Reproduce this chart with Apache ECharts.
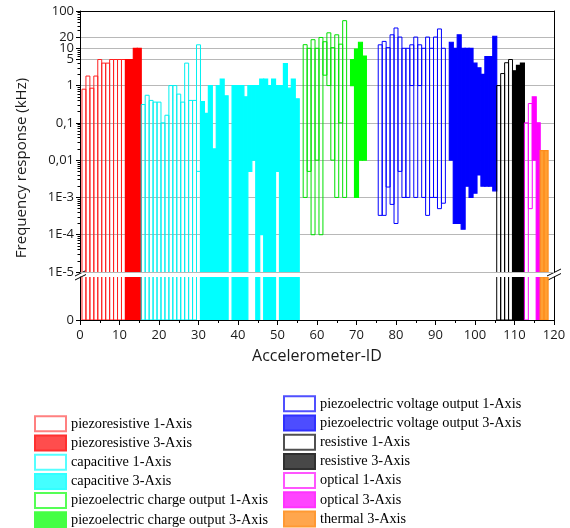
<!DOCTYPE html>
<html><head><meta charset="utf-8">
<script src="https://cdn.jsdelivr.net/npm/echarts@6/dist/echarts.min.js"></script>
<style>html,body{margin:0;padding:0;background:#fff}#c{width:570px;height:528px}</style>
</head><body><div id="c"></div><script>
// ---------- data (frequency range in kHz per accelerometer ID; low 0 = DC) ----------
const prHollowIds  = [1,2,3,4,5,6,7,8,9,10,11];
const prHollowLow  = [0,0,0,0,0,0,0,0,0,0,0];
const prHollowHigh = [0.8,1.8,0.85,1.8,5,4,4,5,5,5,5];

const prFilledIds  = [12,13,14,15];
const prFilledLow  = [0,0,0,0];
const prFilledHigh = [5,5,10,10];

const caHollowIds  = [16,17,18,19,20,21,22,23,24,25,26,27,28,29,30];
const caHollowLow  = [0,0,0,0,0,0,0,0,0,0,0,0,0,0,0.005];
const caHollowHigh = [0.31,0.55,0.4,0.36,0.36,0.1,0.16,1,1,0.59,0.36,4,0.4,0.4,12.4];

const caFilledIds  = [31,32,33,34,35,36,37,39,40,41,42,43,44,45,46,47,48,49,50,51,52,53,54,55];
const caFilledLow  = [0,0,0,0,0,0,0,0,0,0,0,0.005,0.01,0,0.0001,0,0,0,0.005,0,0,0,0,0];
const caFilledHigh = [0.37,0.18,1,0.02,1,1.5,0.53,1,1,1,0.5,1,1,1,1.5,1.5,1,1.5,1,1,3.9,0.85,1.5,0.44];

const pcHollowIds  = [57,58,59,60,61,62,63,64,65,66,67];
const pcHollowLow  = [0.001,0.005,0.0001,0.01,0.0001,1.9,1,0.01,0.001,0.1,0.001];
const pcHollowHigh = [12.5,10,17,10,19.5,15,26,10.4,23,12.9,55];

const pcFilledIds  = [69,70,71,72];
const pcFilledLow  = [1,0.001,0.01,0.01];
const pcFilledHigh = [5,9.5,14.5,6.2];

const pvHollowIds  = [76,77,78,79,80,81,82,83,84,85,86,87,88,89,90,91,92];
const pvHollowLow  = [0.00033,0.00033,0.0019,0.00065,0.0002,0.005,0.001,0.001,1,0.001,1,0.001,0.00033,0.001,0.001,0.0005,0.0007];
const pvHollowHigh = [12.4,15.3,10.4,23,35,20,10,10,12.4,20,12.4,10,20,10,20,33,10];

const pvFilledIds  = [94,95,96,97,98,99,100,101,102,103,104,105];
const pvFilledLow  = [0.01,0.0002,0.0002,0.00014,0.002,0.001,0.0013,0.004,0.002,0.002,0.002,0.0015];
const pvFilledHigh = [14.5,10,23,10,10,10,4,3,2,6,6,21];

const reHollowIds  = [106,107,108,109];
const reHollowLow  = [0,0,0,0];
const reHollowHigh = [1,2.1,4.1,5];

const reFilledIds  = [110,111,112];
const reFilledLow  = [0,0,0];
const reFilledHigh = [2.5,3.5,4];

const opHollowIds  = [113,114];
const opHollowLow  = [0,0.0005];
const opHollowHigh = [0.1,0.33];

const opFilledIds  = [115,116];
const opFilledLow  = [0.01,0];
const opFilledHigh = [0.5,0.1];

const thFilledIds  = [117,118];
const thFilledLow  = [0,0];
const thFilledHigh = [0.018,0.018];

// axis ticks
const yTickValues = [0.00001,0.0001,0.001,0.01,0.1,1,5,10,20,100];
const yTickLabels = ['1E-5','1E-4','1E-3','0,01','0,1','1','5','10','20','100'];
const yMinorValues = [];
for (let d = -5; d <= 1; d++) for (let m = 2; m <= 9; m++) yMinorValues.push(+(m * Math.pow(10, d)).toPrecision(3));
const Y_MIN = 1e-5, Y_MAX = 100;

// ---------- categories ----------
const cats = [
  {name:'piezoresistive 1-Axis', ids:prHollowIds, low:prHollowLow, high:prHollowHigh, hollow:true, color:'#ff2020', lg:{fill:'#ffffff', border:'#ff8080'}},
  {name:'piezoresistive 3-Axis', ids:prFilledIds, low:prFilledLow, high:prFilledHigh, hollow:false, color:'#ff0000', lg:{fill:'#ff4d4d', border:'#ff3030'}},
  {name:'capacitive 1-Axis', ids:caHollowIds, low:caHollowLow, high:caHollowHigh, hollow:true, color:'#00f0f0', lg:{fill:'#ffffff', border:'#55ffff'}},
  {name:'capacitive 3-Axis', ids:caFilledIds, low:caFilledLow, high:caFilledHigh, hollow:false, color:'#00ffff', lg:{fill:'#44ffff', border:'#33ffff'}},
  {name:'piezoelectric charge output 1-Axis', ids:pcHollowIds, low:pcHollowLow, high:pcHollowHigh, hollow:true, color:'#00e000', lg:{fill:'#ffffff', border:'#55ff55'}},
  {name:'piezoelectric charge output 3-Axis', ids:pcFilledIds, low:pcFilledLow, high:pcFilledHigh, hollow:false, color:'#00ff00', lg:{fill:'#44ff44', border:'#44ff44'}},
  {name:'piezoelectric voltage output 1-Axis', ids:pvHollowIds, low:pvHollowLow, high:pvHollowHigh, hollow:true, color:'#0000ff', lg:{fill:'#ffffff', border:'#5050ff'}},
  {name:'piezoelectric voltage output 3-Axis', ids:pvFilledIds, low:pvFilledLow, high:pvFilledHigh, hollow:false, color:'#0000ff', lg:{fill:'#4d4dff', border:'#3030ff'}},
  {name:'resistive 1-Axis', ids:reHollowIds, low:reHollowLow, high:reHollowHigh, hollow:true, color:'#000000', lg:{fill:'#ffffff', border:'#505050'}},
  {name:'resistive 3-Axis', ids:reFilledIds, low:reFilledLow, high:reFilledHigh, hollow:false, color:'#000000', lg:{fill:'#484848', border:'#303030'}},
  {name:'optical 1-Axis', ids:opHollowIds, low:opHollowLow, high:opHollowHigh, hollow:true, color:'#ff00ff', lg:{fill:'#ffffff', border:'#ff55ff'}},
  {name:'optical 3-Axis', ids:opFilledIds, low:opFilledLow, high:opFilledHigh, hollow:false, color:'#ff00ff', lg:{fill:'#ff44ff', border:'#ff33ff'}},
  {name:'thermal 3-Axis', ids:thFilledIds, low:thFilledLow, high:thFilledHigh, hollow:false, color:'#ffa033', stroke:'#ff8c1a', lg:{fill:'#ffa64d', border:'#ff9933'}}
];

function topRender(cat) {
  return function (params, api) {
    const id = api.value(0), lo = api.value(1), hi = api.value(2);
    const open = !(lo > 0);
    const p1 = api.coord([id - 0.5, hi]);
    const p2 = api.coord([id + 0.5, open ? Y_MIN : lo]);
    if (cat.hollow) {
      if (open) return {type:'polyline', shape:{points:[[p1[0],p2[1]],[p1[0],p1[1]],[p2[0],p1[1]],[p2[0],p2[1]]]}, style:{fill:null, stroke:cat.color, lineWidth:1}};
      return {type:'rect', shape:{x:p1[0], y:p1[1], width:p2[0]-p1[0], height:p2[1]-p1[1]}, style:{fill:null, stroke:cat.color, lineWidth:1}};
    }
    return {type:'rect', shape:{x:p1[0], y:p1[1], width:p2[0]-p1[0], height:p2[1]-p1[1]}, style:{fill:cat.color, stroke:cat.stroke || cat.color, lineWidth:1.2}};
  };
}
function bottomRender(cat) {
  return function (params, api) {
    const id = api.value(0);
    const p1 = api.coord([id - 0.5, 1]);
    const p2 = api.coord([id + 0.5, api.value(1)]);
    if (cat.hollow) return {type:'polyline', shape:{points:[[p1[0],p1[1]],[p1[0],p2[1]],[p2[0],p2[1]],[p2[0],p1[1]]]}, style:{fill:null, stroke:cat.color, lineWidth:1}};
    return {type:'rect', shape:{x:p1[0], y:p1[1], width:p2[0]-p1[0], height:p2[1]-p1[1]}, style:{fill:cat.color, stroke:cat.stroke || cat.color, lineWidth:1.2}};
  };
}

const series = [];
cats.forEach(cat => {
  series.push({
    type:'custom', name:cat.name, xAxisIndex:0, yAxisIndex:0, clip:true,
    encode:{x:0, y:2},
    data: cat.ids.map((id, i) => [id, cat.low[i], cat.high[i]]),
    renderItem: topRender(cat), silent:true
  });
  series.push({
    type:'custom', name:cat.name, xAxisIndex:1, yAxisIndex:2, clip:true,
    encode:{x:0, y:1},
    data: cat.ids.map((id, i) => [id, cat.low[i]]).filter(d => d[1] === 0),
    renderItem: bottomRender(cat), silent:true
  });
});

function legendItem(cat) {
  return {name:cat.name, icon:'rect', itemStyle:{color:cat.lg.fill, borderColor:cat.lg.border, borderWidth:2}};
}
const legendText = {fontFamily:'Liberation Serif', fontSize:14.3, lineHeight:15, color:'#000'};

const axisBlack = {show:true, onZero:false, lineStyle:{color:'#000', width:1}};
const fmtY = v => {
  let best = 0, bd = Infinity;
  yTickValues.forEach((t, i) => { const d = Math.abs(Math.log10(v) - Math.log10(t)); if (d < bd) { bd = d; best = i; } });
  return yTickLabels[best];
};

const chart = echarts.init(document.getElementById('c'), null, {renderer:'canvas'});
chart.setOption({
  animation:false,
  backgroundColor:'#fff',
  grid:[
    {left:80, right:16, top:11, height:261},
    {left:80, right:16, top:277, height:43}
  ],
  xAxis:[
    {type:'value', gridIndex:0, min:0, max:120, position:'top', axisLine:axisBlack, axisTick:{show:false}, axisLabel:{show:false}, splitLine:{show:false}},
    {type:'value', gridIndex:1, min:0, max:120, interval:10, position:'bottom', axisLine:axisBlack,
      axisTick:{show:true, length:5, lineStyle:{color:'#000'}},
      minorTick:{show:true, splitNumber:2, length:3, lineStyle:{color:'#000'}},
      axisLabel:{margin:9, fontFamily:'Open Sans', fontSize:13, color:'#1a1a1a'},
      splitLine:{show:false},
      name:'Accelerometer-ID', nameLocation:'middle', nameGap:28,
      nameTextStyle:{fontFamily:'Open Sans', fontSize:16, color:'#1a1a1a'}}
  ],
  yAxis:[
    {type:'log', logBase:10, gridIndex:0, min:Y_MIN, max:Y_MAX, position:'left', axisLine:axisBlack,
      axisTick:{show:true, length:4, customValues:yTickValues, lineStyle:{color:'#000'}},
      axisLabel:{customValues:yTickValues, formatter:fmtY, margin:6, fontFamily:'Open Sans', fontSize:13, color:'#1a1a1a', hideOverlap:false},
      splitLine:{show:true, customValues:yTickValues, lineStyle:{color:'#b8b8b8', width:1}}},
    {type:'log', logBase:10, gridIndex:0, min:Y_MIN, max:Y_MAX, position:'left', axisLine:{show:false},
      axisTick:{show:true, length:2.5, customValues:yMinorValues, lineStyle:{color:'#000'}},
      axisLabel:{show:false}, splitLine:{show:false}},
    {type:'value', gridIndex:1, min:0, max:1, position:'left', axisLine:axisBlack,
      axisTick:{show:true, length:4, customValues:[0], lineStyle:{color:'#000'}},
      axisLabel:{customValues:[0], margin:6, fontFamily:'Open Sans', fontSize:13, color:'#1a1a1a'},
      splitLine:{show:false}},
    {type:'log', logBase:10, gridIndex:0, min:Y_MIN, max:Y_MAX, position:'right', axisLine:axisBlack, axisTick:{show:false}, axisLabel:{show:false}, splitLine:{show:false}},
    {type:'value', gridIndex:1, min:0, max:1, position:'right', axisLine:axisBlack, axisTick:{show:false}, axisLabel:{show:false}, splitLine:{show:false}}
  ],
  legend:[
    {left:34, top:415.3, height:140, padding:0, orient:'vertical', itemWidth:31, itemHeight:15, itemGap:2.2, selectedMode:false, textStyle:legendText,
      data: cats.slice(0,6).map(legendItem)},
    {left:283, top:395.3, height:160, padding:0, orient:'vertical', itemWidth:31, itemHeight:15, itemGap:2.2, selectedMode:false, textStyle:legendText,
      data: cats.slice(6).map(legendItem)}
  ],
  graphic:[
    {type:'text', x:22, y:168, rotation:Math.PI/2, style:{text:'Frequency response (kHz)', fontFamily:'Open Sans', fontSize:15, fill:'#1a1a1a', align:'center', verticalAlign:'middle'}},
    {type:'line', shape:{x1:75, y1:276, x2:86, y2:270.5}, style:{stroke:'#000', lineWidth:1}},
    {type:'line', shape:{x1:75, y1:280, x2:86, y2:274.5}, style:{stroke:'#000', lineWidth:1}},
    {type:'line', shape:{x1:547, y1:276, x2:561, y2:269}, style:{stroke:'#000', lineWidth:1}},
    {type:'line', shape:{x1:547, y1:280.5, x2:561, y2:273.5}, style:{stroke:'#000', lineWidth:1}}
  ],
  series: series
});
</script></body></html>
